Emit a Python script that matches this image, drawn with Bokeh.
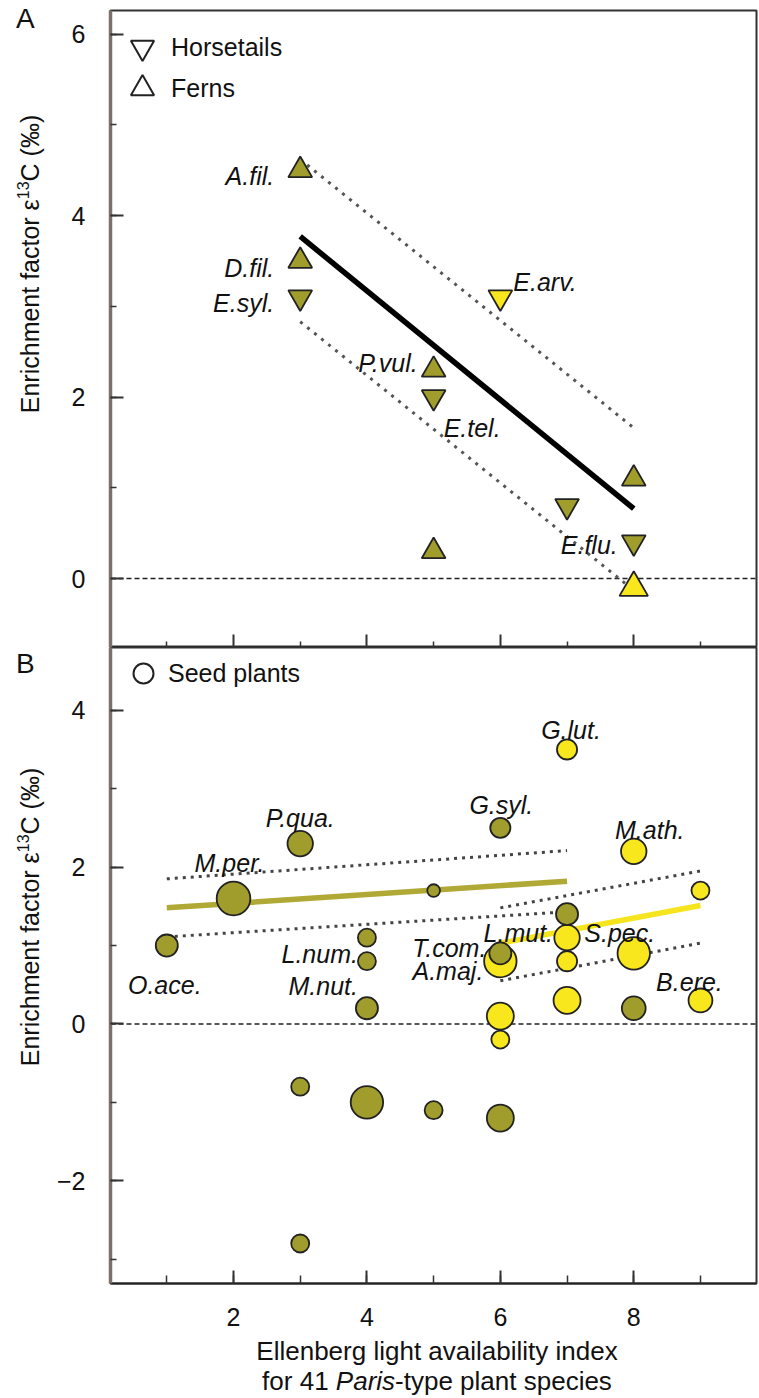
import math
from bokeh.plotting import figure
from bokeh.models import (Range1d, SingleIntervalTicker, FixedTicker, LinearAxis, Span, Legend,
                          LegendItem, ColumnDataSource, Div)
from bokeh.layouts import column, row
from bokeh.embed import file_html
from bokeh.resources import INLINE
from bokeh.core.properties import value

# ---------------- Panel A data (ferns & horsetails) ----------------
fern_x = [3, 3, 5, 5, 8, 8]
fern_y = [4.5, 3.5, 2.3, 0.3, 1.1, -0.1]
fern_grp = ["A", "A", "A", "A", "A", "B"]
fern_n = [7, 7, 7, 7, 7, 10]
fern_lab = ["A.fil.", "D.fil.", "P.vul.", "", "", ""]

horse_x = [3, 5, 6, 7, 8]
horse_y = [3.1, 2.0, 3.1, 0.8, 0.4]
horse_grp = ["A", "A", "B", "A", "A"]
horse_n = [7, 7, 7, 7, 7]
horse_lab = ["E.syl.", "E.tel.", "E.arv.", "", "E.flu."]

fitA_x = [3, 8]
fitA_mid = [3.77, 0.77]
fitA_hi = [4.62, 1.66]
fitA_lo = [2.83, -0.13]

# ---------------- Panel B data (seed plants) ----------------
seed_x = [1, 2, 3, 4, 4, 4, 5, 6, 6, 7, 8, 3, 4, 5, 6, 3,
          7, 8, 9, 7, 7, 6, 8, 6, 6, 7, 9]
seed_y = [1.0, 1.6, 2.3, 1.1, 0.8, 0.2, 1.7, 2.5, 0.9, 1.4, 0.2, -0.8, -1.0, -1.1, -1.2, -2.8,
          3.5, 2.2, 1.7, 1.1, 0.8, 0.8, 0.9, 0.1, -0.2, 0.3, 0.3]
seed_grp = ["A"] * 16 + ["B"] * 11
seed_n = [6, 14, 8, 4, 4, 6, 2, 5, 6, 6, 7, 4, 13, 4, 9, 4,
          5, 8, 4, 8, 5, 13, 13, 9, 4, 9, 7]
seed_lab = ["O.ace.", "M.per.", "P.qua.", "L.num.", "M.nut.", "", "", "G.syl.", "T.com.", "", "", "", "", "", "", "",
            "G.lut.", "M.ath.", "", "L.mut.", "", "A.maj.", "S.pec.", "", "", "", "B.ere."]

fitB1_x = [1, 7]
fitB1_mid = [1.48, 1.82]
fitB1_hi = [1.85, 2.21]
fitB1_lo = [1.11, 1.43]

fitB2_x = [6, 9]
fitB2_mid = [1.03, 1.51]
fitB2_hi = [1.48, 1.95]
fitB2_lo = [0.55, 1.03]

# axis ticks
x_major = [2, 4, 6, 8]
x_minor = [1, 3, 5, 7, 9]

# ---------------- styles ----------------
OLIVE = "#a19d2d"
YELLOW = "#f8e71c"
OLIVE_LINE = "#b0a935"
YELLOW_LINE = "#f6e41e"
EDGE = "#222222"
FONT = "Liberation Sans"
FS = "25px"
COLORS = {"A": OLIVE, "B": YELLOW}

# label placement: align, x offset px, y offset px (screen, down positive), baseline alphabetic
LAB_POS = {
    "A.fil.": ("right", -26, 6), "D.fil.": ("right", -26, 7), "E.syl.": ("right", -26, 6),
    "E.arv.": ("left", 13, -15), "P.vul.": ("right", -16, -7), "E.tel.": ("left", 10, 31),
    "E.flu.": ("right", -16, 3),
    "P.qua.": ("center", 0, -26), "M.per.": ("center", -4, -35), "O.ace.": ("center", -2, 39),
    "L.num.": ("right", -9, 16), "M.nut.": ("right", -9, 25), "G.lut.": ("center", 4, -19),
    "G.syl.": ("center", 1, -23), "M.ath.": ("center", 16, -21), "L.mut.": ("right", -14, -5),
    "S.pec.": ("center", -14, -20), "T.com.": ("right", -14, -5), "A.maj.": ("right", -17, 10),
    "B.ere.": ("center", -11, -18),
}

xr = Range1d(0.156, 9.84)


def size_of(n):
    return [9 * math.sqrt(v) for v in n]


def tick_style(ax):
    ax.major_tick_in = 13
    ax.major_tick_out = 0
    ax.minor_tick_in = 7
    ax.minor_tick_out = 0
    ax.major_tick_line_color = "#333333"
    ax.major_tick_line_width = 2
    ax.minor_tick_line_color = "#333333"
    ax.minor_tick_line_width = 1.5
    ax.major_label_text_font = FONT
    ax.major_label_text_font_size = FS
    ax.major_label_text_color = "#111111"


def style(p):
    p.grid.visible = False
    p.outline_line_color = "#333333"
    p.outline_line_width = 2
    p.background_fill_color = "white"
    p.border_fill_color = "white"
    ay = p.yaxis[0]
    ay.ticker = SingleIntervalTicker(interval=2, num_minor_ticks=2)
    tick_style(ay)
    ay.minor_tick_in = 6
    ay.axis_line_color = "#7b706b"
    ay.axis_line_width = 3.5
    ay.major_label_standoff = 25
    ay.major_label_overrides = {-2: "\u22122"}
    p.add_layout(Span(location=0, dimension="width", line_color="#222222",
                      line_dash="5 3", line_width=1.5, level="underlay"))


def add_labels(p, xs, ys, labs):
    for align in ("left", "right", "center"):
        d = dict(x=[], y=[], text=[], xo=[], yo=[])
        for x, y, t in zip(xs, ys, labs):
            if t and LAB_POS[t][0] == align:
                d["x"].append(x); d["y"].append(y); d["text"].append(t)
                d["xo"].append(LAB_POS[t][1]); d["yo"].append(LAB_POS[t][2])
        if d["x"]:
            p.text(x="x", y="y", text="text", x_offset="xo", y_offset="yo",
                   source=ColumnDataSource(d), text_align=align, text_baseline="alphabetic",
                   text_font=value(FONT), text_font_style="italic", text_font_size=FS,
                   text_color="#111111")


def legend(p, label, renderer, gsize, loc):
    p.add_layout(Legend(items=[LegendItem(label=label, renderers=[renderer])],
                        location=loc, glyph_width=gsize, glyph_height=gsize,
                        padding=0, margin=0, label_standoff=0, border_line_color=None,
                        background_fill_alpha=0, label_text_font=FONT, label_text_font_size=FS,
                        label_text_color="#111111"))


def side_div(letter, letter_top, label_center, height):
    html = (
        f"<div style=\"position:relative;width:50px;height:{height}px;overflow:hidden;"
        f"font-family:'Liberation Sans';color:#111\">"
        f"<div style=\"position:absolute;left:16px;top:{letter_top}px;font-size:28px;line-height:28px\">{letter}</div>"
        f"<div style=\"position:absolute;left:27px;top:{label_center}px;transform:translate(-50%,-50%) rotate(-90deg);"
        f"white-space:nowrap;font-size:25px;line-height:30px\">Enrichment factor \u03b5<sup style=\"font-size:16px\">13</sup>C (\u2030)</div>"
        f"</div>")
    return Div(text=html, width=50, height=height, margin=0)


# ---------------- Panel A ----------------
pA = figure(width=709, height=647, x_range=xr, y_range=Range1d(-0.76, 6.26),
            output_backend="svg", toolbar_location=None,
            min_border_left=60, min_border_right=3, min_border_top=10, min_border_bottom=0)
style(pA)
axA1 = pA.xaxis[0]
axA1.ticker = FixedTicker(ticks=[], minor_ticks=x_major)
tick_style(axA1)
axA1.minor_tick_in = 13
axA1.minor_tick_line_width = 2
axA1.major_label_standoff = 0
axA1.axis_line_color = "#222222"
axA1.axis_line_width = 2
axA2 = LinearAxis(ticker=FixedTicker(ticks=[], minor_ticks=x_minor))
tick_style(axA2)
axA2.minor_tick_in = 6
axA2.major_label_standoff = 0
axA2.axis_line_color = None
pA.add_layout(axA2, "below")

pA.line(fitA_x, fitA_hi, line_color="#555555", line_width=3, line_dash="3 6")
pA.line(fitA_x, fitA_lo, line_color="#555555", line_width=3, line_dash="3 6")
pA.line(fitA_x, fitA_mid, line_color="black", line_width=5.5)

srcF = ColumnDataSource(dict(x=fern_x, y=fern_y, c=[COLORS[g] for g in fern_grp], s=size_of(fern_n)))
srcH = ColumnDataSource(dict(x=horse_x, y=horse_y, c=[COLORS[g] for g in horse_grp], s=size_of(horse_n)))
pA.scatter("x", "y", source=srcF, marker="triangle", size="s", fill_color="c",
           line_color=EDGE, line_width=1.8)
pA.scatter("x", "y", source=srcH, marker="inverted_triangle", size="s", fill_color="c",
           line_color=EDGE, line_width=1.8)
add_labels(pA, fern_x + horse_x, fern_y + horse_y, fern_lab + horse_lab)

legH = pA.scatter(x=horse_x[:1], y=horse_y[:1], marker="inverted_triangle", fill_color="white",
                  line_color=EDGE, line_width=2, visible=False)
legF = pA.scatter(x=fern_x[:1], y=fern_y[:1], marker="triangle", fill_color="white",
                  line_color=EDGE, line_width=2, visible=False)
legend(pA, "Horsetails", legH, 58, (3, 571))
legend(pA, "Ferns", legF, 58, (3, 530))

# ---------------- Panel B ----------------
pB = figure(width=709, height=692, x_range=xr, y_range=Range1d(-3.31, 4.80),
            output_backend="svg", toolbar_location=None,
            min_border_left=60, min_border_right=3, min_border_top=0, min_border_bottom=56)
style(pB)
axB = pB.xaxis[0]
axB.ticker = SingleIntervalTicker(interval=2, num_minor_ticks=2)
tick_style(axB)
axB.minor_tick_in = 8
axB.major_label_standoff = 24
axB.axis_line_color = "#222222"
axB.axis_line_width = 2

pB.line(fitB1_x, fitB1_hi, line_color="#444444", line_width=3, line_dash="3 5")
pB.line(fitB1_x, fitB1_lo, line_color="#444444", line_width=3, line_dash="3 5")
pB.line(fitB2_x, fitB2_hi, line_color="#444444", line_width=3, line_dash="3 5")
pB.line(fitB2_x, fitB2_lo, line_color="#444444", line_width=3, line_dash="3 5")
pB.line(fitB1_x, fitB1_mid, line_color=OLIVE_LINE, line_width=5.5)
pB.line(fitB2_x, fitB2_mid, line_color=YELLOW_LINE, line_width=5.5)

for g in ("B", "A"):
    idx = [i for i, gg in enumerate(seed_grp) if gg == g]
    src = ColumnDataSource(dict(x=[seed_x[i] for i in idx], y=[seed_y[i] for i in idx],
                                s=size_of([seed_n[i] for i in idx])))
    pB.scatter("x", "y", source=src, marker="circle", size="s", fill_color=COLORS[g],
               line_color=EDGE, line_width=1.8)
add_labels(pB, seed_x, seed_y, seed_lab)

legS = pB.scatter(x=seed_x[:1], y=seed_y[:1], marker="circle", fill_color="white",
                  line_color=EDGE, line_width=2, visible=False)
legend(pB, "Seed plants", legS, 50, (8, 585))

# ---------------- side texts and x label ----------------
sideA = side_div("A", 5, 264, 647)
sideB = side_div("B", 3, 270, 692)

xlabel = Div(width=759, height=59, margin=0, text=(
    "<div style=\"margin-left:110px;margin-top:-3px;width:654px;text-align:center;"
    "font-family:'Liberation Sans';font-size:26px;line-height:30px;color:#111\">"
    "Ellenberg light availability index<br>for 41 <i>Paris</i>-type plant species</div>"))

layout = column(row(sideA, pA, spacing=0), row(sideB, pB, spacing=0), xlabel, spacing=0)
open("out.html", "w").write(file_html(layout, INLINE))
